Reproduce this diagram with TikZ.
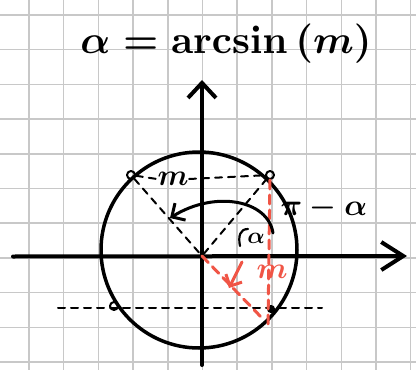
\documentclass[tikz,border=0pt]{standalone}
\usetikzlibrary{arrows.meta}
\definecolor{gridgray}{RGB}{200,200,200}
\definecolor{penred}{RGB}{240,85,70}
\begin{document}
\begin{tikzpicture}[x=1pt,y=-1pt, line cap=round, line join=round,
 gridline/.style={gridgray, line width=1.5pt, line cap=butt},
 axisline/.style={line width=4pt},
 blackdash/.style={line width=2pt, dash pattern=on 7pt off 6pt},
 reddash/.style={penred, line width=3pt, dash pattern=on 9pt off 6pt},
 ptmark/.style={circle, draw, line width=2pt, minimum size=8pt, inner sep=0pt},
 lbl/.style={inner sep=0pt, font=\boldmath\bfseries}]
\useasboundingbox[fill=white] (0,0) rectangle (416,370);
\foreach \i in {0,...,11} \draw[gridline] ({29+34.7*\i},0) -- ({29+34.7*\i},370);
\foreach \i in {0,...,10} \draw[gridline] (0,{15+34.7*\i}) -- (416,{15+34.7*\i});
% title
\node[lbl, scale=3.95] (title) at (226,44) {$\alpha = \mathbf{arcsin}\,(m)$};
% key coordinates
\coordinate (O) at (202,256);
\coordinate (C) at (199,250);
\coordinate (xl) at (13,256.5);
\coordinate (xr) at (407,256);
\coordinate (yb) at (202,365);
\coordinate (yt) at (202,80);
% axes
\draw[axisline, -{Straight Barb[length=22pt,width=28pt]}] (xl) -- (xr);
\draw[axisline, -{Straight Barb[length=15pt,width=28pt]}] (yb) -- (yt);
% unit circle
\draw[line width=3.5pt] (C) circle[radius=98];
% point markers
\node[ptmark] (P1) at (131,175) {};
\node[ptmark] (P2) at (270,175) {};
\node[ptmark] (P3) at (114,306) {};
\node[ptmark, fill=black, minimum size=6pt] (P4) at (271,309) {};
% labels
\node[lbl, scale=3] (m1) at (173,179) {$m$};
\node[lbl, text=penred, scale=3] (mr) at (272,272) {$m$};
\node[lbl, scale=2.3] (al) at (256,238) {$\alpha$};
\node[lbl, scale=3.0] (pa) at (324,208) {$\pi-\alpha$};
% black dashed lines
\draw[blackdash] (P1) -- (m1.west);
\draw[blackdash] (m1.east) -- (P2);
\draw[blackdash] (P1) -- (O);
\draw[blackdash] (P2) -- (O);
\coordinate (L1) at (58,308);
\coordinate (L2) at (322,308);
\draw[blackdash] (L1) -- (L2);
% red dashed lines
\coordinate (R1) at (268,325);
\coordinate (R2) at (262,318);
\draw[reddash] (P2) -- (R1);
\draw[reddash] (O) -- (R2);
\coordinate (ra1) at (242,262);
\coordinate (ra2) at (229,288);
\draw[penred, line width=3pt, -{Straight Barb[length=9pt,width=18pt]}] (ra1) -- (ra2);
% rotation arrow
\coordinate (a1) at (273,233);
\coordinate (a2) at (170,218);
\draw[line width=3pt, -{Straight Barb[length=10pt,width=20pt]}] (a1) .. controls (268,200) and (215,190) .. (a2);
% angle mark
\coordinate (h1) at (240,246);
\coordinate (h2) at (248,229);
\draw[line width=2.2pt] (h1) .. controls (238,236) and (240,229) .. (h2);
\end{tikzpicture}
\end{document}
